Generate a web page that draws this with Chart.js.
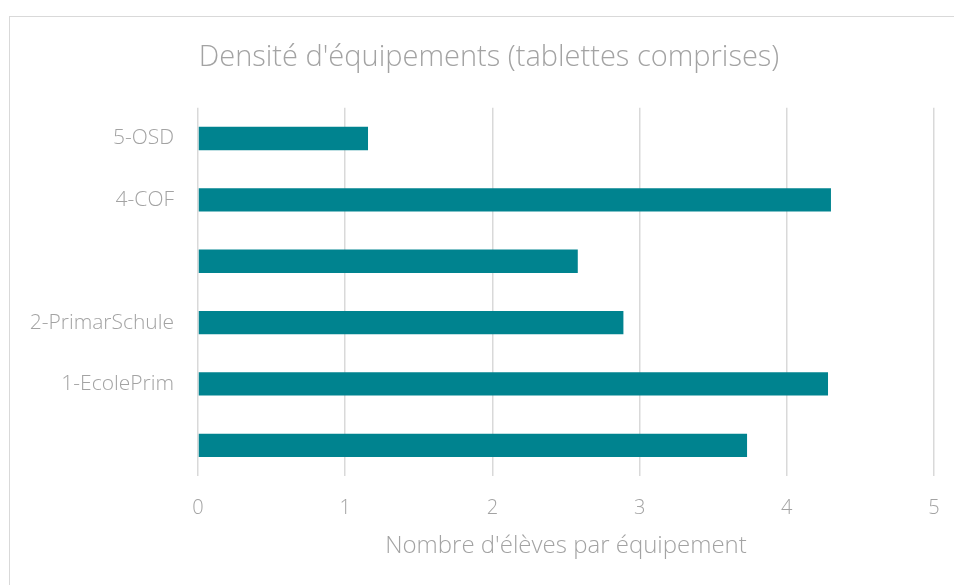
<!DOCTYPE html>
<html>
<head>
<meta charset="utf-8">
<script src="https://cdn.jsdelivr.net/npm/chart.js@4/dist/chart.umd.min.js"></script>
<style>
  html, body { margin: 0; padding: 0; background: #fff; overflow: hidden; }
  #wrap { position: relative; width: 954px; height: 585px; }
  #frame {
    position: absolute; left: 9px; top: 16px; width: 1000px; height: 700px;
    border-left: 1.5px solid #d9d9d9; border-top: 1.5px solid #d9d9d9;
  }
  canvas { position: absolute; left: 0; top: 0; }
</style>
</head>
<body>
<div id="wrap">
  <div id="frame"></div>
  <canvas id="densityChart" width="954" height="585"></canvas>
</div>
<script>
  // categories, top to bottom as in the picture (two have no label)
  const categories = ["5-OSD", "4-COF", "", "2-PrimarSchule", "1-EcolePrim", ""];
  const elevesParEquipement = [1.155, 4.30, 2.58, 2.89, 4.28, 3.73];
  const xTicks = [0, 1, 2, 3, 4, 5];

  const chartTitle = "Densité d'équipements (tablettes comprises)";
  const xAxisTitle = "Nombre d'élèves par équipement";

  const textGray = "#a3a3a3";
  const fontFamily = "'Open Sans', Lato, sans-serif";

  const ctx = document.getElementById("densityChart").getContext("2d");
  const densityChart = new Chart(ctx, {
    type: "bar",
    data: {
      labels: categories,
      datasets: [
        {
          label: "Densité",
          data: elevesParEquipement,
          backgroundColor: "#00838f",
          borderWidth: 0,
          barPercentage: 0.38,
          categoryPercentage: 1,
        },
      ],
    },
    options: {
      indexAxis: "y",
      responsive: false,
      animation: false,
      layout: {
        // uneven side padding puts the title centre where the original has it
        padding: { left: 24, right: 0, top: 40, bottom: 0 },
      },
      plugins: {
        legend: { display: false },
        tooltip: { enabled: false },
        title: {
          display: true,
          text: chartTitle,
          color: textGray,
          font: { family: fontFamily, size: 29, weight: "300" },
          padding: { top: 0, bottom: 33 },
        },
      },
      scales: {
        x: {
          min: 0,
          max: 5,
          afterBuildTicks: (scale) => {
            scale.ticks = xTicks.map((v) => ({ value: v }));
          },
          afterFit: (scale) => {
            scale.height = 109;
            scale.paddingLeft = 0;
            scale.paddingRight = 20; // space right of the plot
          },
          border: { display: false },
          grid: {
            color: "#d9d9d9",
            lineWidth: 1.5,
            drawTicks: false,
          },
          ticks: {
            color: textGray,
            padding: 20,
            font: { family: fontFamily, size: 20, weight: "300" },
          },
          title: {
            display: true,
            text: xAxisTitle,
            color: textGray,
            font: { family: fontFamily, size: 24, weight: "300" },
            padding: { top: 0, bottom: 24 },
          },
        },
        y: {
          afterFit: (scale) => {
            scale.width = 174;
          },
          border: { display: false },
          grid: { display: false, drawTicks: false },
          ticks: {
            color: textGray,
            padding: 24,
            autoSkip: false,
            font: { family: fontFamily, size: 21, weight: "300" },
          },
        },
      },
    },
  });
</script>
</body>
</html>
